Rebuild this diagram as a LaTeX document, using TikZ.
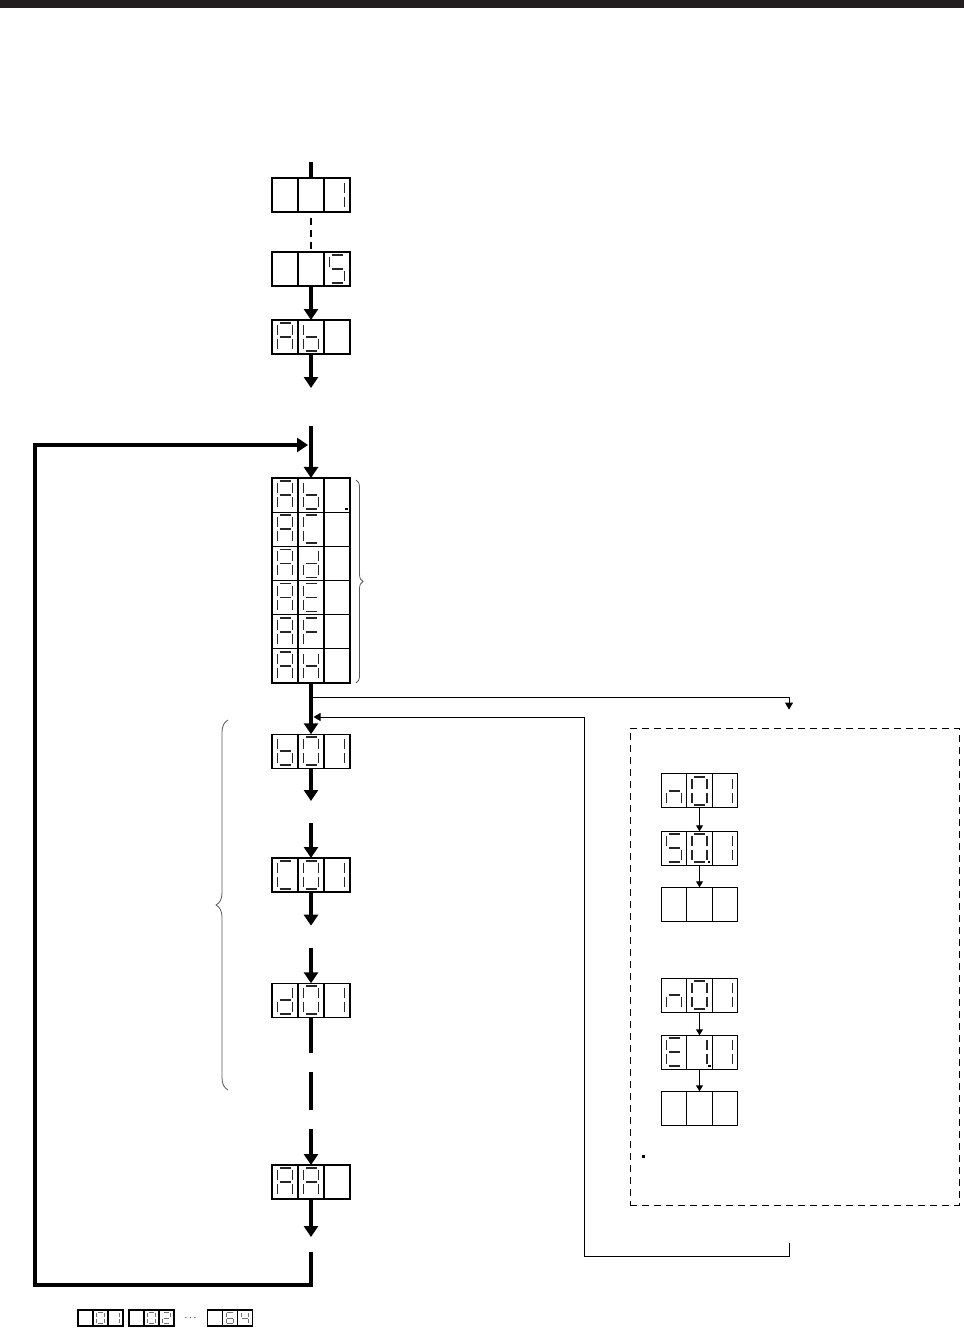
\documentclass[tikz,border=0pt]{standalone}
\usetikzlibrary{arrows.meta,decorations.pathreplacing}
\definecolor{barcol}{HTML}{231F20}
\def\SGa{(-5.5,-14)--(5.5,-14)}
\def\SGb{(7.5,-12)--(7.5,-2)}
\def\SGc{(7.5,2)--(7.5,12)}
\def\SGd{(-5.5,14)--(5.5,14)}
\def\SGe{(-7.5,2)--(-7.5,12)}
\def\SGf{(-7.5,-12)--(-7.5,-2)}
\def\SGg{(-5.5,0)--(5.5,0)}
\newcommand\digit[4]{%
  \if\relax\detokenize{#4}\relax\else
  \begin{scope}[shift={(#2,#3)},#1]
    \foreach \s in {#4}{\draw[seg] \csname SG\s\endcsname;}
  \end{scope}\fi}
\newcommand\disp[9][]{%
  \node[box, minimum width={#5*3pt}, minimum height={#6pt}] (#2) at (#3,#4) {};
  \draw[boxline] ([xshift={-#5*0.5pt}]#2.north) -- ([xshift={-#5*0.5pt}]#2.south);
  \draw[boxline] ([xshift={#5*0.5pt}]#2.north) -- ([xshift={#5*0.5pt}]#2.south);
  \digit{#1}{#3-#5}{#4}{#7}%
  \digit{#1}{#3}{#4}{#8}%
  \digit{#1}{#3+#5}{#4}{#9}%
}
\newcommand\dpoint[2]{\fill[black] (#1-1.3,#2-1.3) rectangle (#1+1.3,#2+1.3);}
\begin{document}
\begin{tikzpicture}[x=1pt,y=-1pt,
  box/.style={draw, line width=1.2pt, rectangle, inner sep=0pt, outer sep=0pt},
  boxline/.style={line width=1.2pt},
  seg/.style={line width=1.8pt, black!85},
  small/.style={xscale=0.5, yscale=0.4, seg/.style={line width=1pt, black!55}},
  thk/.style={line width=4pt},
  thkarr/.style={line width=4pt, -{Triangle[width=14pt,length=11pt]}},
  thnarr/.style={line width=1pt, -{Triangle[width=8pt,length=7pt]}},
  pnarr/.style={line width=1pt, -{Triangle[width=7pt,length=6pt]}},
  brc/.style={decorate, black!65, line width=0.8pt}]
\useasboundingbox (0,0) rectangle (964,1329);
\fill[barcol] (0,0) rectangle (964,8);

% main column displays
\disp{D1}{311}{195}{26}{34}{}{}{b,c}
\disp{D2}{311}{269}{26}{34}{}{}{a,f,g,c,d}
\disp{D3}{311}{337}{26}{34}{a,b,c,e,f,g}{f,e,d,c,g}{}
\disp{G1}{311}{495.08}{26}{34.17}{a,b,c,e,f,g}{f,e,d,c,g}{}
\dpoint{346.5}{509}
\disp{G2}{311}{529.25}{26}{34.17}{a,b,c,e,f,g}{a,f,e,d}{}
\disp{G3}{311}{563.42}{26}{34.17}{a,b,c,e,f,g}{b,c,d,e,g}{}
\disp{G4}{311}{597.58}{26}{34.17}{a,b,c,e,f,g}{a,f,g,e,d}{}
\disp{G5}{311}{631.75}{26}{34.17}{a,b,c,e,f,g}{a,f,g,e}{}
\disp{G6}{311}{665.92}{26}{34.17}{a,b,c,e,f,g}{f,e,b,c,g}{}
\disp{b01}{311}{751.3}{26}{34}{f,e,d,c,g}{a,b,c,d,e,f}{b,c}
\disp{C01}{311}{875}{26}{34}{a,f,e,d}{a,b,c,d,e,f}{b,c}
\disp{d01}{311}{1000.3}{26}{34}{b,c,d,e,g}{a,b,c,d,e,f}{b,c}
\disp{AA}{311}{1182}{26}{34}{a,b,c,e,f,g}{a,b,c,e,f,g}{}

% braces
\draw[brc, decoration={brace, amplitude=7pt}] (356,480) -- (356,683);
\draw[brc, decoration={brace, amplitude=12pt}] (228,1090) -- (228,720);

% dashed panel
\node[draw, dash pattern=on 7pt off 5pt, line width=1pt, inner sep=0pt,
      minimum width=329pt, minimum height=477pt] (panel) at (794.5,966.5) {};
\disp{P1}{699.5}{790.8}{25.5}{34}{c,e,g}{a,b,c,d,e,f}{b,c}
\disp{P2}{699.5}{848.3}{25.5}{34}{a,f,g,c,d}{a,b,c,d,e,f}{b,c}
\dpoint{709}{862}
\disp{P3}{699.5}{904.3}{25.5}{34}{}{}{}
\disp{P4}{699.5}{995.3}{25.5}{34}{c,e,g}{a,b,c,d,e,f}{b,c}
\disp{P5}{699.5}{1052.3}{25.5}{34}{a,f,g,e,d}{b,c}{b,c}
\dpoint{709.5}{1066}
\disp{P6}{699.5}{1108.3}{25.5}{34}{}{}{}
\draw[pnarr] (P1.south) -- (P2.north);
\draw[pnarr] (P2.south) -- (P3.north);
\draw[pnarr] (P4.south) -- (P5.north);
\draw[pnarr] (P5.south) -- (P6.north);
\fill[black] (641.8,1154.5) rectangle (644.8,1157.5);

% small displays at the bottom
\disp[small]{S1}{100.5}{1318}{15}{16}{}{a,b,c,d,e,f}{b,c}
\disp[small]{S2}{151.5}{1318}{15}{16}{}{a,b,c,d,e,f}{a,b,g,e,d}
\node[inner sep=0pt] (ell) at (190.5,1318.5) {$\cdots$};
\disp[small]{S3}{230}{1318}{15}{16}{}{a,f,g,e,d,c}{f,g,b,c}

% main connectors
\coordinate (top0) at (311,162);
\draw[thk] (top0) -- (D1.north);
\coordinate (dsh1) at (311,218);
\coordinate (dsh2) at (311,250);
\draw[line width=1.3pt, dash pattern=on 7pt off 5pt] (dsh1) -- (dsh2);
\draw[thkarr] (D2.south) -- (D3.north);
\coordinate (ab1) at (311,388);
\draw[thkarr] (D3.south) -- (ab1);
\coordinate (in0) at (311,426);
\draw[thkarr] (in0) -- (G1.north);
\draw[thkarr] (G6.south) -- (b01.north);
\coordinate (b1) at (311,801);
\draw[thkarr] (b01.south) -- (b1);
\coordinate (c0) at (311,823);
\draw[thkarr] (c0) -- (C01.north);
\coordinate (c1) at (311,925.7);
\draw[thkarr] (C01.south) -- (c1);
\coordinate (d0) at (311,948);
\draw[thkarr] (d0) -- (d01.north);
\coordinate (d1) at (311,1053);
\draw[thk] (d01.south) -- (d1);
\coordinate (e0) at (311,1072);
\coordinate (e1) at (311,1110);
\draw[thk] (e0) -- (e1);
\coordinate (f0) at (311,1129);
\draw[thkarr] (f0) -- (AA.north);
\coordinate (f1) at (311,1237);
\draw[thkarr] (AA.south) -- (f1);

% loop back
\coordinate (lp0) at (311,1252);
\coordinate (lp1) at (311,1284.5);
\coordinate (lp2) at (35,1284.5);
\coordinate (lp3) at (35,445);
\coordinate (lp4) at (308,445);
\draw[thkarr, line join=miter] (lp0) -- (lp1) -- (lp2) -- (lp3) -- (lp4);

% branch to panel and return
\coordinate (br0) at (311,697);
\coordinate (br1) at (789,697);
\coordinate (br2) at (789,709.6);
\draw[thnarr] (br0) -- (br1) -- (br2);
\coordinate (rt0) at (789,1243);
\coordinate (rt1) at (789,1256);
\coordinate (rt2) at (584,1256);
\coordinate (rt3) at (584,717);
\coordinate (rt4) at (313.5,717);
\draw[thnarr] (rt0) -- (rt1) -- (rt2) -- (rt3) -- (rt4);
\end{tikzpicture}
\end{document}
